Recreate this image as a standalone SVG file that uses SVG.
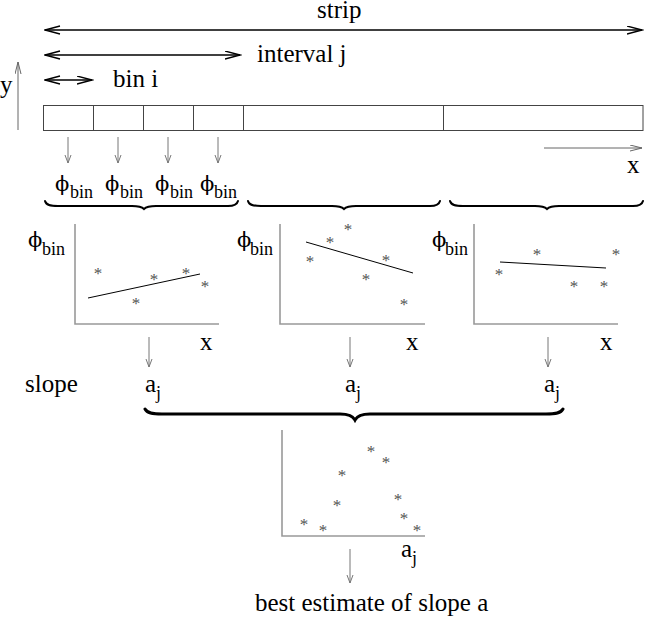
<svg xmlns="http://www.w3.org/2000/svg" width="653" height="618" viewBox="0 0 653 618">
<style>
text{font-family:"Liberation Serif","DejaVu Serif",serif;fill:#000}
.t{font-size:25px}
.s{font-size:18px}
.phi{font-family:"DejaVu Serif","Liberation Serif",serif;font-size:21px}
.st{font-size:17px;fill:#555;text-anchor:middle}
.ax{stroke:#999;stroke-width:1.6;fill:none}
.fit{stroke:#000;stroke-width:1;fill:none}
.brace{stroke:#000;fill:none;stroke-linecap:round}
.big{stroke:#000;stroke-width:1.3;fill:none;marker-start:url(#hb);marker-end:url(#hb)}
.dn{stroke:#777;stroke-width:1;fill:none;marker-end:url(#hs)}
</style>
<defs>
<marker id="hb" markerUnits="userSpaceOnUse" markerWidth="17" markerHeight="10" refX="15.5" refY="4.5" orient="auto-start-reverse">
<path d="M0.5,0.5 L15.5,4.5 L0.5,8.5" fill="none" stroke="#000" stroke-width="1.3"/>
</marker>
<marker id="hs" markerUnits="userSpaceOnUse" markerWidth="10" markerHeight="8" refX="8.5" refY="3.5" orient="auto">
<path d="M0.5,0.5 L8.5,3.5 L0.5,6.5" fill="none" stroke="#777" stroke-width="1"/>
</marker>
<marker id="hm" markerUnits="userSpaceOnUse" markerWidth="14" markerHeight="8" refX="12.5" refY="3.5" orient="auto">
<path d="M0.5,0.5 L12.5,3.5 L0.5,6.5" fill="none" stroke="#666" stroke-width="1"/>
</marker>
</defs>

<g id="connectors">
<line class="big" x1="45" y1="30" x2="642" y2="30"/>
<line class="big" x1="45" y1="55" x2="240" y2="55"/>
<line class="big" x1="45" y1="80" x2="92" y2="80"/>
<line x1="18" y1="130" x2="18" y2="62" stroke="#666" stroke-width="1" marker-end="url(#hm)"/>
<line x1="544" y1="148" x2="642" y2="148" stroke="#666" stroke-width="1" marker-end="url(#hm)"/>
<line class="dn" x1="68" y1="137" x2="68" y2="163"/>
<line class="dn" x1="118" y1="137" x2="118" y2="163"/>
<line class="dn" x1="168" y1="137" x2="168" y2="163"/>
<line class="dn" x1="218" y1="137" x2="218" y2="163"/>
<line class="dn" x1="149" y1="337" x2="149" y2="367"/>
<line class="dn" x1="350" y1="337" x2="350" y2="367"/>
<line class="dn" x1="548" y1="337" x2="548" y2="367"/>
<line class="dn" x1="350" y1="549" x2="350" y2="583"/>
<path class="brace" stroke-width="2" d="M45,201 C46,205 50,206 58,206 L132,206 C139,206 142,207 144,209 C146,207 149,206 156,206 L228,206 C234,206 237,205 238,201"/>
<path class="brace" stroke-width="2" d="M248,201 C249,205 253,206 261,206 L332,206 C339,206 342,207 344,209 C346,207 349,206 356,206 L430,206 C436,206 439,205 440,201"/>
<path class="brace" stroke-width="2" d="M450,201 C451,205 455,206 463,206 L535,206 C542,206 545,207 547,209 C549,207 552,206 559,206 L633,206 C639,206 642,205 643,201"/>
<path class="brace" stroke-width="3" d="M145,409 C147,413 152,414 162,414 L340,414 C349,414 353,416 355,420 C357,416 361,414 370,414 L546,414 C556,414 561,413 563,409"/>
</g>

<g id="labels-top">
<text class="t" x="317" y="18">strip</text>
<text class="t" x="257" y="62">interval j</text>
<text class="t" x="113" y="87">bin i</text>
<text class="t" x="0" y="93">y</text>
<text class="t" x="627" y="173">x</text>
</g>

<g id="strip">
<rect x="43.5" y="105.5" width="599.5" height="25" fill="none" stroke="#444" stroke-width="1"/>
<path d="M93.5,105.5V130.5M143.5,105.5V130.5M193.5,105.5V130.5M243.5,105.5V130.5M443.5,105.5V130.5" stroke="#444" stroke-width="1"/>
</g>

<g id="bin-values">
<text class="phi" x="55" y="191">ϕ</text><text class="s" x="70" y="198">bin</text>
<text class="phi" x="105" y="191">ϕ</text><text class="s" x="120" y="198">bin</text>
<text class="phi" x="155" y="191">ϕ</text><text class="s" x="170" y="198">bin</text>
<text class="phi" x="200" y="191">ϕ</text><text class="s" x="214" y="198">bin</text>
</g>

<g id="plot1">
<path class="ax" d="M75,224V324H219"/>
<text class="phi" x="28" y="247">ϕ</text><text class="s" x="42" y="255">bin</text>
<line class="fit" x1="88" y1="298" x2="200" y2="274"/>
<text class="st" x="98" y="279">*</text>
<text class="st" x="154" y="285">*</text>
<text class="st" x="186" y="279">*</text>
<text class="st" x="205" y="292">*</text>
<text class="st" x="136" y="309">*</text>
<text class="t" x="200" y="350">x</text>
</g>

<g id="plot2">
<path class="ax" d="M280,224V324H425"/>
<text class="phi" x="237" y="247">ϕ</text><text class="s" x="250" y="255">bin</text>
<line class="fit" x1="306" y1="242" x2="413" y2="273"/>
<text class="st" x="310" y="267">*</text>
<text class="st" x="330" y="248">*</text>
<text class="st" x="348" y="235">*</text>
<text class="st" x="386" y="266">*</text>
<text class="st" x="366" y="285">*</text>
<text class="st" x="404" y="310">*</text>
<text class="t" x="406" y="350">x</text>
</g>

<g id="plot3">
<path class="ax" d="M474,224V324H618"/>
<text class="phi" x="432" y="247">ϕ</text><text class="s" x="445" y="255">bin</text>
<line class="fit" x1="500" y1="262" x2="606" y2="268"/>
<text class="st" x="499" y="280">*</text>
<text class="st" x="537" y="260">*</text>
<text class="st" x="616" y="260">*</text>
<text class="st" x="574" y="292">*</text>
<text class="st" x="604" y="292">*</text>
<text class="t" x="600" y="350">x</text>
</g>

<g id="slopes">
<text class="t" x="25" y="392">slope</text>
<text class="t" x="145" y="392">a</text><text class="s" x="156" y="399">j</text>
<text class="t" x="345" y="392">a</text><text class="s" x="356" y="399">j</text>
<text class="t" x="544" y="392">a</text><text class="s" x="555" y="399">j</text>
</g>

<g id="histogram">
<path class="ax" d="M282,430V536H425"/>
<text class="st" x="304" y="530">*</text>
<text class="st" x="323" y="536">*</text>
<text class="st" x="337" y="511">*</text>
<text class="st" x="342" y="481">*</text>
<text class="st" x="371" y="457">*</text>
<text class="st" x="386" y="468">*</text>
<text class="st" x="398" y="505">*</text>
<text class="st" x="404" y="524">*</text>
<text class="st" x="417" y="536">*</text>
<text class="t" x="401" y="557">a</text><text class="s" x="412" y="564">j</text>
</g>

<g id="result">
<text class="t" x="255" y="611">best estimate of slope a</text>
</g>
</svg>
